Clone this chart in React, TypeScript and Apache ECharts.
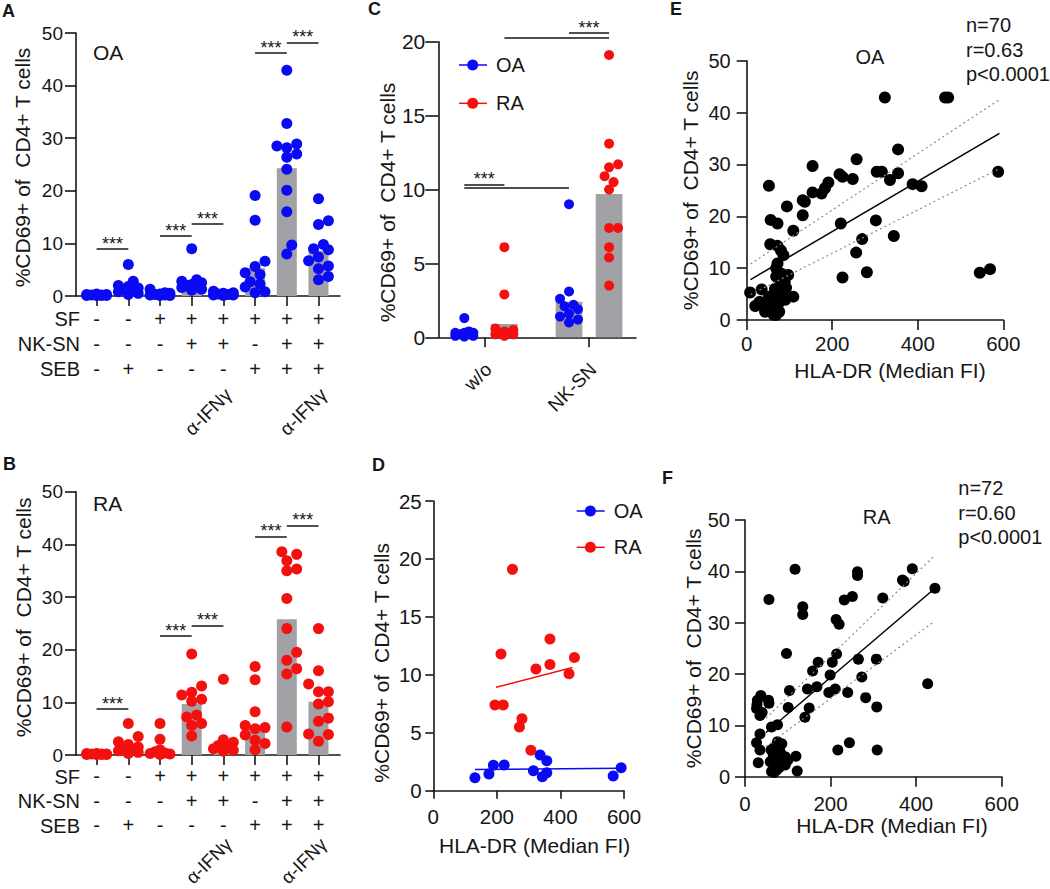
import { useEffect, useRef } from 'react';
import * as echarts from 'echarts';

const FONT = '"Liberation Sans", Arial, Helvetica, sans-serif';
const INK = '#161616';
const BLUE = '#0a0af5';
const RED = '#f51010';
const GRAY = '#a2a2a6';
const Y_TITLE = '%CD69+ of  CD4+ T cells';
const X_TITLE = 'HLA-DR (Median FI)';

// ---------- Panels A / B ----------
const rowNames = ['SF', 'NK-SN', 'SEB'];
const sfRow = ['-', '-', '+', '+', '+', '+', '+', '+'];
const nkRow = ['-', '-', '-', '+', '+', '-', '+', '+'];
const sebRow = ['-', '+', '-', '-', '-', '+', '+', '+'];
const ifnLabels = ['', '', '', '', 'α-IFNγ', '', '', 'α-IFNγ'];
const abCats = sfRow.map((_, i) => 'c' + i);

const oaMeans = [0.2, 1.7, 0.2, 2.5, 0.3, 5.3, 24.3, 8.6];
const oaDots = [
  [0.1, 0.2, 0.3, 0.1, 0.2, 0.4, 0.1, 0.3, 0.2, 0.1],
  [6.0, 2.8, 2.0, 1.5, 1.0, 1.2, 0.5, 0.8, 0.3, 1.8],
  [1.3, 0.6, 0.2, 0.1, 0.3, 0.5, 0.2, 0.4, 0.1],
  [9.0, 3.1, 2.8, 2.5, 2.0, 1.6, 1.3, 1.1, 2.2, 1.8],
  [0.9, 0.6, 0.4, 0.2, 0.3, 0.1, 0.5, 0.2],
  [19.1, 14.4, 6.6, 5.6, 4.4, 4.1, 2.7, 2.3, 1.7, 0.8, 0.6],
  [42.9, 32.8, 28.9, 28.5, 28.2, 27.0, 26.4, 24.1, 20.1, 16.0, 9.7, 8.0],
  [18.5, 14.3, 13.6, 9.8, 9.0, 8.8, 7.4, 6.7, 5.7, 5.2, 3.7, 3.1],
];
const oaBrackets = [[0, 1, 8.9], [2, 3, 11.4], [3, 4, 13.7], [5, 6, 46.2], [6, 7, 48.2]];

const raMeans = [0.2, 1.5, 1.0, 9.7, 2.6, 5.6, 25.8, 10.1];
const raDots = [
  [0.2, 0.1, 0.3, 0.2, 0.1, 0.3, 0.2, 0.1, 0.2, 0.1],
  [6.0, 3.5, 2.5, 2.0, 1.5, 1.0, 0.8, 0.5, 1.2, 0.3],
  [6.0, 3.0, 1.0, 0.6, 0.3, 0.2, 0.4, 0.1],
  [19.2, 13.1, 11.9, 11.4, 10.6, 10.2, 7.6, 7.2, 6.0, 5.6, 3.6],
  [14.4, 2.9, 2.4, 1.8, 1.4, 1.2, 0.9, 0.7],
  [16.8, 14.3, 8.2, 5.6, 5.2, 5.0, 3.8, 2.8, 2.2, 1.0],
  [38.6, 38.1, 36.9, 35.3, 35.0, 29.7, 24.0, 19.5, 18.0, 16.4, 15.4, 5.3],
  [24.0, 16.0, 13.5, 12.0, 12.0, 10.1, 9.7, 7.0, 6.4, 4.0, 3.9, 2.6],
];
const raBrackets = [[0, 1, 8.8], [2, 3, 22.6], [3, 4, 24.6], [5, 6, 41.5], [6, 7, 43.6]];

// ---------- Panel C ----------
const cCats = ['w/o', 'NK-SN'];
const cOaMeans = [0.4, 2.4];
const cRaMeans = [0.9, 9.7];
const cOaDots = [
  [1.3, 0.4, 0.3, 0.3, 0.2, 0.1, 0.1, 0.05, 0.2, 0.3],
  [9.0, 3.1, 2.6, 2.2, 2.1, 1.9, 1.6, 1.4, 1.2, 1.0],
];
const cRaDots = [
  [6.1, 2.9, 0.6, 0.5, 0.3, 0.3, 0.2, 0.1, 0.2, 0.4],
  [19.1, 13.1, 11.7, 11.5, 10.9, 10.5, 10.0, 7.4, 7.4, 6.1, 5.4, 3.5],
];
// [category, side(-1 OA, +1 RA), category, side, y]
const cStarLines = [[1, -1, 1, 1, 20.6], [0, -1, 0, 1, 10.35]];
const cLongLines = [[0, 1, 1, 1, 20.27], [0, -1, 1, -1, 10.12]];

// ---------- Panel D ----------
const dOaX = [131, 175, 189, 223, 315, 336, 357, 343, 357, 566, 591];
const dOaY = [1.12, 1.44, 2.19, 2.22, 1.73, 3.08, 2.59, 1.21, 1.55, 1.27, 1.99];
const dRaX = [249, 213, 367, 323, 367, 444, 427, 194, 220, 279, 271, 307];
const dRaY = [19.1, 11.8, 13.1, 10.5, 10.9, 11.5, 10.1, 7.4, 7.4, 6.2, 5.5, 3.5];
const dOaFit = [[131, 1.84], [590, 1.93]];
const dRaFit = [[197, 8.92], [438, 10.64]];

// ---------- Panel E (OA) ----------
const ePoints = [
  [8, 5.3], [20, 2.7], [35, 5.9], [41, 3.1], [43, 1.6], [52, 4.5], [52, 25.9], [55, 14.6], [56, 19.3], [72, 18.6],
  [62, 2.9], [69, 5.1], [69, 1.0], [74, 3.2], [76, 1.6], [69, 10.0], [72, 14.3], [80, 13.4], [86, 12.5], [69, 8.4],
  [78, 6.4], [82, 8.9], [89, 7.4], [90, 3.9], [97, 8.7], [94, 21.9], [109, 4.5], [109, 17.2], [131, 20.2], [131, 23.1],
  [136, 22.8], [154, 24.6], [154, 29.7], [175, 24.4], [183, 25.4], [191, 26.5], [217, 28.1], [224, 27.6], [248, 27.2], [257, 31.0],
  [220, 18.6], [224, 8.2], [256, 13.0], [270, 15.6], [281, 9.2], [302, 19.2], [304, 28.6], [316, 28.6], [323, 42.9], [335, 27.0],
  [344, 16.2], [354, 32.9], [354, 28.3], [388, 26.2], [409, 25.8], [464, 42.9], [471, 42.9], [545, 9.1], [569, 9.8], [588, 28.6],
  [47, 1.9], [55, 3.5], [63, 1.0], [72, 10.9], [66, 6.0], [84, 5.5], [30, 3.5], [58, 4.0], [79, 7.8], [92, 6.2],
];
const eFit = [[9, 7.8], [591, 36.0]];
const eUpper = [[9, 10.8], [591, 42.5]];
const eLower = [[9, 4.9], [591, 29.2]];
const eStats = ['n=70', 'r=0.63', 'p<0.0001'];

// ---------- Panel F (RA) ----------
const fPoints = [
  [117, 40.4], [56, 34.5], [135, 33.1], [135, 31.6], [263, 39.9], [263, 39.2], [391, 40.5], [368, 38.3], [372, 38.0], [444, 36.7],
  [232, 34.4], [251, 35.1], [322, 34.8], [213, 30.6], [220, 29.7], [97, 24.0], [214, 23.9], [204, 22.3], [171, 22.3], [158, 20.6],
  [199, 19.8], [265, 22.9], [307, 22.9], [273, 19.4], [211, 17.1], [196, 16.4], [240, 16.4], [168, 17.5], [146, 17.1], [104, 16.8],
  [282, 15.4], [308, 13.6], [150, 13.4], [101, 13.5], [140, 11.6], [427, 18.1], [37, 15.8], [29, 14.9], [27, 13.3], [55, 14.9],
  [56, 14.3], [35, 11.9], [62, 9.7], [76, 10.1], [35, 8.3], [27, 6.6], [35, 5.2], [31, 2.7], [61, 5.2], [76, 6.8],
  [86, 6.4], [66, 3.9], [78, 4.2], [62, 1.0], [74, 1.3], [94, 2.3], [94, 3.9], [119, 4.0], [122, 1.1], [217, 5.2],
  [244, 6.6], [309, 5.2], [59, 2.9], [70, 2.6], [82, 4.9], [68, 0.8], [86, 3.0], [40, 12.5], [28, 14.0], [100, 3.2],
  [66, 5.5], [80, 1.8],
];
const fFit = [[49, 8.6], [444, 36.7]];
const fUpper = [[49, 11.4], [440, 42.8]];
const fLower = [[49, 5.9], [440, 30.1]];
const fStats = ['n=72', 'r=0.60', 'p<0.0001'];

// ---------- layout helpers ----------
// simple beeswarm: returns x offsets (axis units) so dots do not pile up
function swarm(values: number[], pxPerY: number, pxPerX: number, diam: number, maxPx: number): number[] {
  const order = values.map((_, i) => i).sort((a, b) => values[a] - values[b]);
  const placed: { x: number; y: number }[] = [];
  const out = new Array(values.length).fill(0);
  const step = diam * 0.45;
  const minD = diam * 0.85;
  const cands: number[] = [0];
  for (let k = 1; k * step <= maxPx + 0.01; k++) cands.push(k * step, -k * step);
  for (const i of order) {
    const y = values[i] * pxPerY;
    let best = 0;
    let bestScore = -Infinity;
    for (const c of cands) {
      let md = Infinity;
      for (const p of placed) {
        const d = Math.hypot(p.x - c, p.y - y);
        if (d < md) md = d;
      }
      if (md >= minD) { best = c; break; }
      if (md > bestScore) { bestScore = md; best = c; }
    }
    placed.push({ x: best, y });
    out[i] = best / pxPerX;
  }
  return out;
}

const axLine = { color: INK, width: 1.6 };

function yVisible(gridIndex: number, max: number, interval: number, tickLen: number, margin: number, fontSize: number, nameGap: number, namePad: number[]) {
  return {
    gridIndex, type: 'value', position: 'left', min: 0, max, interval,
    axisLine: { show: true, onZero: false, lineStyle: axLine },
    axisTick: { show: true, inside: false, length: tickLen, lineStyle: axLine },
    axisLabel: { show: true, margin, fontSize, color: INK, fontFamily: FONT },
    splitLine: { show: false },
    name: Y_TITLE, nameLocation: 'middle', nameRotate: 90, nameGap,
    nameTextStyle: { fontSize: 21, color: INK, fontFamily: FONT, padding: namePad },
  };
}
function yHidden(gridIndex: number, max: number) {
  return { gridIndex, type: 'value', position: 'left', min: 0, max, show: false, splitLine: { show: false } };
}
function xLineOnly(gridIndex: number) {
  return {
    gridIndex, type: 'value', position: 'bottom', min: 0, max: 1,
    axisLine: { show: true, onZero: false, lineStyle: axLine },
    axisTick: { show: false }, axisLabel: { show: false }, splitLine: { show: false },
  };
}
function xValueHidden(gridIndex: number, min: number, max: number) {
  return { gridIndex, type: 'value', position: 'bottom', min, max, show: false, splitLine: { show: false } };
}
function xHla(gridIndex: number, tickLen: number, margin: number, nameGap: number, shift: number) {
  return {
    gridIndex, type: 'value', position: 'bottom', min: 0, max: 600, interval: 200,
    axisLine: { show: true, onZero: false, lineStyle: axLine },
    axisTick: { show: true, length: tickLen, lineStyle: axLine },
    axisLabel: { margin, fontSize: 20.5, color: INK, fontFamily: FONT },
    splitLine: { show: false },
    name: X_TITLE, nameLocation: 'middle', nameGap,
    nameTextStyle: { fontSize: 21, color: INK, fontFamily: FONT, padding: [0, 0, 0, shift * 2] },
  };
}
function abCatAxis(gridIndex: number, lineHeight: number, margin: number) {
  return {
    gridIndex, type: 'category', position: 'bottom', data: abCats,
    axisLine: { show: false },
    axisTick: { show: true, alignWithLabel: true, length: 10, lineStyle: axLine },
    axisLabel: {
      interval: 0, margin, lineHeight, fontSize: 20, color: INK, fontFamily: FONT,
      formatter: (_: string, i: number) => [sfRow[i], nkRow[i], sebRow[i]].join('\n'),
    },
    splitLine: { show: false },
  };
}
function bracketMarks(lines: number[][], withStars: boolean) {
  return {
    silent: true, symbol: ['none', 'none'], animation: false,
    lineStyle: { color: INK, width: 1.5, type: 'solid' },
    label: withStars
      ? { show: true, formatter: '***', position: 'insideMiddleTop', distance: -4, fontSize: 18, color: INK, fontFamily: FONT }
      : { show: false },
    emphasis: { disabled: true },
    data: lines.map(([x1, x2, y]) => [{ coord: [x1, y] }, { coord: [x2, y] }]),
  };
}

function abSeries(means: number[], dots: number[][], color: string, brackets: number[][], xCat: number, xVal: number, yIdx: number, pxPerY: number) {
  const pxPerX = 253.6 / 8;
  const pts: number[][] = [];
  dots.forEach((vals, ci) => {
    const offs = swarm(vals, pxPerY, pxPerX, 11, 10);
    vals.forEach((v, k) => pts.push([ci + offs[k], v]));
  });
  return [
    { type: 'bar', xAxisIndex: xCat, yAxisIndex: yIdx, data: means, barWidth: 20, itemStyle: { color: GRAY }, silent: true, z: 1 },
    { type: 'scatter', xAxisIndex: xVal, yAxisIndex: yIdx, data: pts, symbolSize: 11, itemStyle: { color, opacity: 1 }, silent: true, z: 3, markLine: bracketMarks(brackets, true) },
  ];
}

const txt = (text: string, x: number, y: number, fontSize: number, extra: any = {}) => ({
  type: 'text', x, y, silent: true,
  style: { text, fontSize, fontFamily: FONT, fill: INK, align: 'left', verticalAlign: 'middle', ...extra },
});
const rotTxt = (text: string, x: number, y: number, fontSize: number) => ({
  type: 'text', x, y, rotation: Math.PI / 4, silent: true,
  style: { text, fontSize, fontFamily: FONT, fill: INK, align: 'right', verticalAlign: 'middle' },
});

function buildOption() {
  const gridBase = { containLabel: false, outerBoundsMode: 'none' };
  const cHeight = 295.6;
  const cTallHeight = cHeight * 22 / 20;
  const grids = [
    { left: 76, top: 33, width: 264, height: 263 },            // 0 A frame
    { left: 80.75, top: 33, width: 253.6, height: 263 },       // 1 A data
    { left: 76, top: 491.7, width: 264, height: 263.3 },       // 2 B frame
    { left: 80.75, top: 491.7, width: 253.6, height: 263.3 },  // 3 B data
    { left: 438.3, top: 41.7, width: 197.7, height: cHeight },  // 4 C frame
    { left: 432, top: 337.3 - cTallHeight, width: 209.4, height: cTallHeight }, // 5 C data
    { left: 433.3, top: 501, width: 190.7, height: 289.7 },    // 6 D
    { left: 746.7, top: 60.7, width: 256.6, height: 259.3 },   // 7 E
    { left: 745, top: 520, width: 256.7, height: 256.7 },      // 8 F
  ].map((g) => ({ ...gridBase, ...g }));

  const xAxis = [
    xLineOnly(0),                 // 0
    abCatAxis(1, 25, 10.5),       // 1
    xValueHidden(1, -0.5, 7.5),   // 2
    xLineOnly(2),                 // 3
    abCatAxis(3, 24.5, 9.2),      // 4
    xValueHidden(3, -0.5, 7.5),   // 5
    xLineOnly(4),                 // 6
    {                             // 7 C categories (ticks only; labels drawn rotated)
      gridIndex: 5, type: 'category', position: 'bottom', data: cCats,
      axisLine: { show: false },
      axisTick: { show: true, alignWithLabel: true, length: 10, lineStyle: axLine },
      axisLabel: { show: false },
      splitLine: { show: false },
    },
    xValueHidden(5, -0.5, 1.5),   // 8
    xHla(6, 8, 15, 44, 6),        // 9 D
    xHla(7, 10, 13, 40, 15),      // 10 E
    xHla(8, 10, 16, 38, 18.7),    // 11 F
  ];
  const yAxis = [
    yVisible(0, 50, 10, 11, 13, 19, 43, [0, 6, 0, 0]),   // 0
    yHidden(1, 50),                                         // 1
    yVisible(2, 50, 10, 11, 13, 19, 42, [0, 0, 0, 12]),  // 2
    yHidden(3, 50),                                         // 3
    yVisible(4, 20, 5, 13, 13, 21, 38, [0, 26, 0, 0]),   // 4
    yHidden(5, 22),                                         // 5
    yVisible(6, 25, 5, 8, 11.6, 20.5, 41, [0, 34, 0, 0]), // 6
    yVisible(7, 50, 10, 10, 16, 20, 46, [0, 0, 0, 0]),   // 7
    yVisible(8, 50, 10, 10, 15, 20, 41.5, [0, 0, 0, 0]), // 8
  ];

  // Panel C dots / bars
  const cBand = 209.4 / 2;
  const cBarW = 26.7;
  const cOff = (cBarW * 1.5) / 2 / cBand;
  const cPxY = cHeight / 20;
  const cPts = (dots: number[][], side: number) => {
    const pts: number[][] = [];
    dots.forEach((vals, ci) => {
      const offs = swarm(vals, cPxY, cBand, 10, 9);
      vals.forEach((v, k) => pts.push([ci + side * cOff + offs[k], v]));
    });
    return pts;
  };
  const cx = (cat: number, side: number) => cat + side * cOff;
  const cStar = cStarLines.map(([a, sa, b, sb, y]) => [cx(a, sa), cx(b, sb), y]);
  const cLong = cLongLines.map(([a, sa, b, sb, y]) => [cx(a, sa), cx(b, sb), y]);

  const fitLine = (xi: number, yi: number, data: number[][], color: string, dotted = false) => ({
    type: 'line', xAxisIndex: xi, yAxisIndex: yi, data, showSymbol: false, symbol: 'none', silent: true, z: 4,
    lineStyle: dotted ? { color: '#8a8a8a', width: 1.2, type: [2, 3] } : { color, width: 1.5 },
  });

  const series: any[] = [
    ...abSeries(oaMeans, oaDots, BLUE, oaBrackets, 1, 2, 1, 263 / 50),
    ...abSeries(raMeans, raDots, RED, raBrackets, 4, 5, 3, 263.3 / 50),
    { type: 'bar', name: 'OA mean', xAxisIndex: 7, yAxisIndex: 5, data: cOaMeans, barWidth: cBarW, barGap: '50%', itemStyle: { color: GRAY }, silent: true, z: 1 },
    { type: 'bar', name: 'RA mean', xAxisIndex: 7, yAxisIndex: 5, data: cRaMeans, barWidth: cBarW, barGap: '50%', itemStyle: { color: GRAY }, silent: true, z: 1 },
    { type: 'scatter', name: 'OA', xAxisIndex: 8, yAxisIndex: 5, data: cPts(cOaDots, -1), symbolSize: 10, itemStyle: { color: BLUE, opacity: 1 }, silent: true, z: 3, markLine: bracketMarks(cStar, true) },
    { type: 'scatter', name: 'RA', xAxisIndex: 8, yAxisIndex: 5, data: cPts(cRaDots, 1), symbolSize: 10, itemStyle: { color: RED, opacity: 1 }, silent: true, z: 3, markLine: bracketMarks(cLong, false) },
    { type: 'scatter', name: 'OA', xAxisIndex: 9, yAxisIndex: 6, data: dOaX.map((x, i) => [x, dOaY[i]]), symbolSize: 11, itemStyle: { color: BLUE, opacity: 1 }, silent: true, z: 3 },
    { type: 'scatter', name: 'RA', xAxisIndex: 9, yAxisIndex: 6, data: dRaX.map((x, i) => [x, dRaY[i]]), symbolSize: 11, itemStyle: { color: RED, opacity: 1 }, silent: true, z: 3 },
    fitLine(9, 6, dOaFit, BLUE),
    fitLine(9, 6, dRaFit, RED),
    { type: 'scatter', name: 'OA', xAxisIndex: 10, yAxisIndex: 7, data: ePoints, symbolSize: 12, itemStyle: { color: '#000', opacity: 1 }, silent: true, z: 3 },
    fitLine(10, 7, eFit, '#000'),
    fitLine(10, 7, eUpper, '#000', true),
    fitLine(10, 7, eLower, '#000', true),
    { type: 'scatter', name: 'RA', xAxisIndex: 11, yAxisIndex: 8, data: fPoints, symbolSize: 11, itemStyle: { color: '#000', opacity: 1 }, silent: true, z: 3 },
    fitLine(11, 8, fFit, '#000'),
    fitLine(11, 8, fUpper, '#000', true),
    fitLine(11, 8, fLower, '#000', true),
  ];

  const legendItem = (x: number, y: number, color: string, label: string) => [
    { type: 'line', silent: true, shape: { x1: x, y1: y, x2: x + 28, y2: y }, style: { stroke: color, lineWidth: 1.5 } },
    { type: 'circle', silent: true, shape: { cx: x + 13.7, cy: y, r: 5.5 }, style: { fill: color } },
    txt(label, x + 37, y, 20),
  ];
  const bold = { fontWeight: 'bold' };
  const elements: any[] = [
    txt('A', 2, 11, 18, bold), txt('B', 3, 463.5, 18, bold), txt('C', 368, 8.5, 18, bold),
    txt('D', 372, 465, 18, bold), txt('E', 670, 9, 18, bold), txt('F', 662, 478, 18, bold),
    txt('OA', 93, 52, 21), txt('RA', 93, 503, 21),
    txt('OA', 870, 56.7, 20, { align: 'center' }), txt('RA', 876.7, 516.7, 20, { align: 'center' }),
    ...rowNames.map((r, i) => txt(r, 80, 319 + i * 25, 20, { align: 'right' })),
    ...rowNames.map((r, i) => txt(r, 80, 776.7 + i * 24.5, 20, { align: 'right' })),
    ...eStats.map((s, i) => txt(s, 966, 25 + i * 24.5, 20)),
    ...fStats.map((s, i) => txt(s, 958.3, 488.3 + i * 24.2, 20)),
    ...legendItem(459, 65, BLUE, 'OA'), ...legendItem(459, 103.3, RED, 'RA'),
    ...legendItem(576.7, 511, BLUE, 'OA'), ...legendItem(576.7, 547.3, RED, 'RA'),
  ];

  return {
    option: {
      animation: false,
      backgroundColor: '#ffffff',
      textStyle: { fontFamily: FONT, color: INK },
      grid: grids,
      xAxis,
      yAxis,
      series,
      graphic: { elements },
    },
    elements,
  };
}

// rotated category labels, placed from the axes' own pixel scale
function rotatedLabels(chart: any) {
  const els: any[] = [];
  const px = (finder: any, v: any) => chart.convertToPixel(finder, v) as number;
  const addIfn = (xCat: number, yIdx: number, dy: number, fs: number) => {
    const y0 = px({ yAxisIndex: yIdx }, 0);
    ifnLabels.forEach((l, i) => {
      if (!l) return;
      els.push(rotTxt(l, px({ xAxisIndex: xCat }, abCats[i]) + 5, y0 + dy, fs));
    });
  };
  addIfn(1, 1, 95.5, 19);
  addIfn(4, 3, 86, 18.5);
  const yc = px({ yAxisIndex: 5 }, 0);
  cCats.forEach((c) => els.push(rotTxt(c, px({ xAxisIndex: 7 }, c) + 4, yc + 29, 19)));
  return els;
}

export default function App() {
  const ref = useRef<HTMLDivElement>(null);
  useEffect(() => {
    document.body.style.margin = '0';
    const chart = echarts.init(ref.current!, null, { renderer: 'svg' });
    const { option, elements } = buildOption();
    chart.setOption(option as any);
    chart.setOption({ graphic: { elements: [...elements, ...rotatedLabels(chart)] } } as any);
    return () => chart.dispose();
  }, []);
  return <div ref={ref} style={{ width: 1050, height: 889 }} />;
}
